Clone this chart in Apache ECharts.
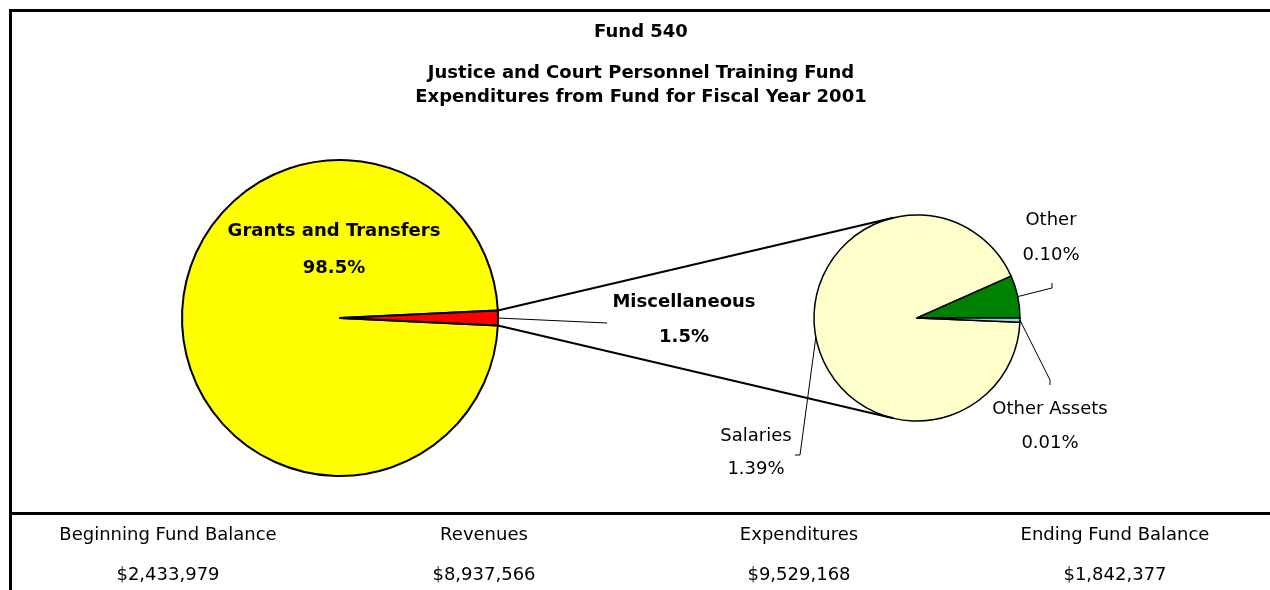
<!DOCTYPE html>
<html><head><meta charset="utf-8">
<script src="https://cdn.jsdelivr.net/npm/echarts@6/dist/echarts.min.js"></script>
<style>html,body{margin:0;padding:0;background:#fff}#c{width:1270px;height:590px}</style>
</head><body><div id="c"></div><script>
// ---- data ----
const titleLines = ['Fund 540', 'Justice and Court Personnel Training Fund', 'Expenditures from Fund for Fiscal Year 2001'];
const mainCategories = ['Grants and Transfers', 'Miscellaneous'];
const mainValues = [98.5, 1.5];
const detailCategories = ['Salaries', 'Other', 'Other Assets'];
const detailValues = [1.39, 0.10, 0.01];
const footerLabels = ['Beginning Fund Balance', 'Revenues', 'Expenditures', 'Ending Fund Balance'];
const footerValues = ['$2,433,979', '$8,937,566', '$9,529,168', '$1,842,377'];

// ---- styles / layout ----
const FONT = 'DejaVu Sans';
const mainColors = ['#FFFF00', '#FF0000'];
const detailColors = ['#FFFFCC', '#008000', '#99D5DD'];
const mainLabelPos = [[334, 249.5, 37, 'bold'], [684, 319.5, 35, 'bold']];
const detailLabelPos = [[756, 452.5, 33, 'normal'], [1051, 237.5, 35, 'normal'], [1050, 426, 34, 'normal']];
const detailLeaderEnds = [[[800, 455], [795, 455]], [[1052, 288], [1052, 283]], [[1050, 380], [1050, 385]]];
const mainLeaderEnds = [null, [[607, 323]]];

const sum = a => a.reduce((s, v) => s + v, 0);
const mainStart = 360 - (mainValues[1] / sum(mainValues) * 360) / 2;
const detailStart = 360 - (detailValues[2] / sum(detailValues) * 360);

const chart = echarts.init(document.getElementById('c'));

function mkLayout(pos) {
  return function (p) {
    const q = pos[p.dataIndex];
    return { x: q[0], y: q[1], align: 'center', verticalAlign: 'middle' };
  };
}
function mkData(cats, vals, colors, pos) {
  return cats.map((c, i) => ({
    name: c, value: vals[i],
    itemStyle: { color: colors[i] },
    label: { lineHeight: pos[i][2], fontWeight: pos[i][3] }
  }));
}

const option = {
  animation: false,
  backgroundColor: '#ffffff',
  series: [
    {
      type: 'pie', center: [340, 318], radius: 158,
      startAngle: mainStart, clockwise: true, avoidLabelOverlap: false,
      itemStyle: { borderColor: '#000', borderWidth: 2 },
      label: {
        show: true, position: 'outside', color: '#000', fontFamily: FONT, fontSize: 18,
        formatter: p => p.name + '\n' + p.value.toFixed(1) + '%'
      },
      labelLine: { show: false },
      labelLayout: mkLayout(mainLabelPos),
      emphasis: { disabled: true },
      data: mkData(mainCategories, mainValues, mainColors, mainLabelPos)
    },
    {
      type: 'pie', center: [917, 318], radius: 103,
      startAngle: detailStart, clockwise: true, avoidLabelOverlap: false,
      itemStyle: { borderColor: '#000', borderWidth: 1.5 },
      label: {
        show: true, position: 'outside', color: '#000', fontFamily: FONT, fontSize: 18,
        formatter: p => p.name + '\n' + p.value.toFixed(2) + '%'
      },
      labelLine: { show: false },
      labelLayout: mkLayout(detailLabelPos),
      emphasis: { disabled: true },
      data: mkData(detailCategories, detailValues, detailColors, detailLabelPos)
    }
  ]
};
chart.setOption(option);

// ---- decorations computed from the pie layout ----
function itemLayout(si, di) {
  return chart.getModel().getSeriesByIndex(si).getData().getItemLayout(di);
}
function pt(l, a, r) { return [l.cx + (r == null ? l.r : r) * Math.cos(a), l.cy + (r == null ? l.r : r) * Math.sin(a)]; }
function tangent(P, cx, cy, R, upper) {
  const d = Math.hypot(P[0] - cx, P[1] - cy);
  const phi = Math.atan2(P[1] - cy, P[0] - cx);
  const a = Math.acos(R / d);
  const t1 = [cx + R * Math.cos(phi + a), cy + R * Math.sin(phi + a)];
  const t2 = [cx + R * Math.cos(phi - a), cy + R * Math.sin(phi - a)];
  return upper ? (t1[1] < t2[1] ? t1 : t2) : (t1[1] > t2[1] ? t1 : t2);
}

const g = [];
// frame
g.push({ type: 'rect', shape: { x: 9, y: 9, width: 1261, height: 3 }, style: { fill: '#000' } });
g.push({ type: 'rect', shape: { x: 9, y: 9, width: 3, height: 581 }, style: { fill: '#000' } });
g.push({ type: 'rect', shape: { x: 9, y: 512, width: 1261, height: 3 }, style: { fill: '#000' } });
// titles
const titleY = [32, 73, 97];
titleLines.forEach((t, i) => g.push({ type: 'text', x: 641, y: titleY[i], style: { text: t, fill: '#000', font: 'bold 18px "' + FONT + '"', textAlign: 'center', textVerticalAlign: 'middle' } }));
// footer
const footerX = [168, 484, 799, 1115];
footerLabels.forEach((t, i) => {
  g.push({ type: 'text', x: footerX[i], y: 535, style: { text: t, fill: '#000', font: '18px "' + FONT + '"', textAlign: 'center', textVerticalAlign: 'middle' } });
  g.push({ type: 'text', x: footerX[i], y: 575, style: { text: footerValues[i], fill: '#000', font: '18px "' + FONT + '"', textAlign: 'center', textVerticalAlign: 'middle' } });
});

try {
  const misc = itemLayout(0, 1);
  const d0 = itemLayout(1, 0);
  const e1 = pt(misc, misc.startAngle), e2 = pt(misc, misc.endAngle);
  const top = e1[1] < e2[1] ? e1 : e2, bot = e1[1] < e2[1] ? e2 : e1;
  const tt = tangent(top, d0.cx, d0.cy, d0.r, true);
  const tb = tangent(bot, d0.cx, d0.cy, d0.r, false);
  g.push({ type: 'polyline', shape: { points: [top, tt] }, style: { stroke: '#000', lineWidth: 2, fill: null }, z: 10 });
  g.push({ type: 'polyline', shape: { points: [bot, tb] }, style: { stroke: '#000', lineWidth: 2, fill: null }, z: 10 });
  // leader lines
  const mid = (l) => pt(l, (l.startAngle + l.endAngle) / 2);
  mainLeaderEnds.forEach((ends, i) => {
    if (!ends) return;
    const l = itemLayout(0, i);
    g.push({ type: 'polyline', shape: { points: [mid(l)].concat(ends) }, style: { stroke: '#000', lineWidth: 1, fill: null }, z: 10 });
  });
  detailLeaderEnds.forEach((ends, i) => {
    const l = itemLayout(1, i);
    g.push({ type: 'polyline', shape: { points: [mid(l)].concat(ends) }, style: { stroke: '#000', lineWidth: 1, fill: null }, z: 10 });
  });
} catch (e) { console.error(e); }

chart.setOption({ graphic: { elements: g } });
</script></body></html>
